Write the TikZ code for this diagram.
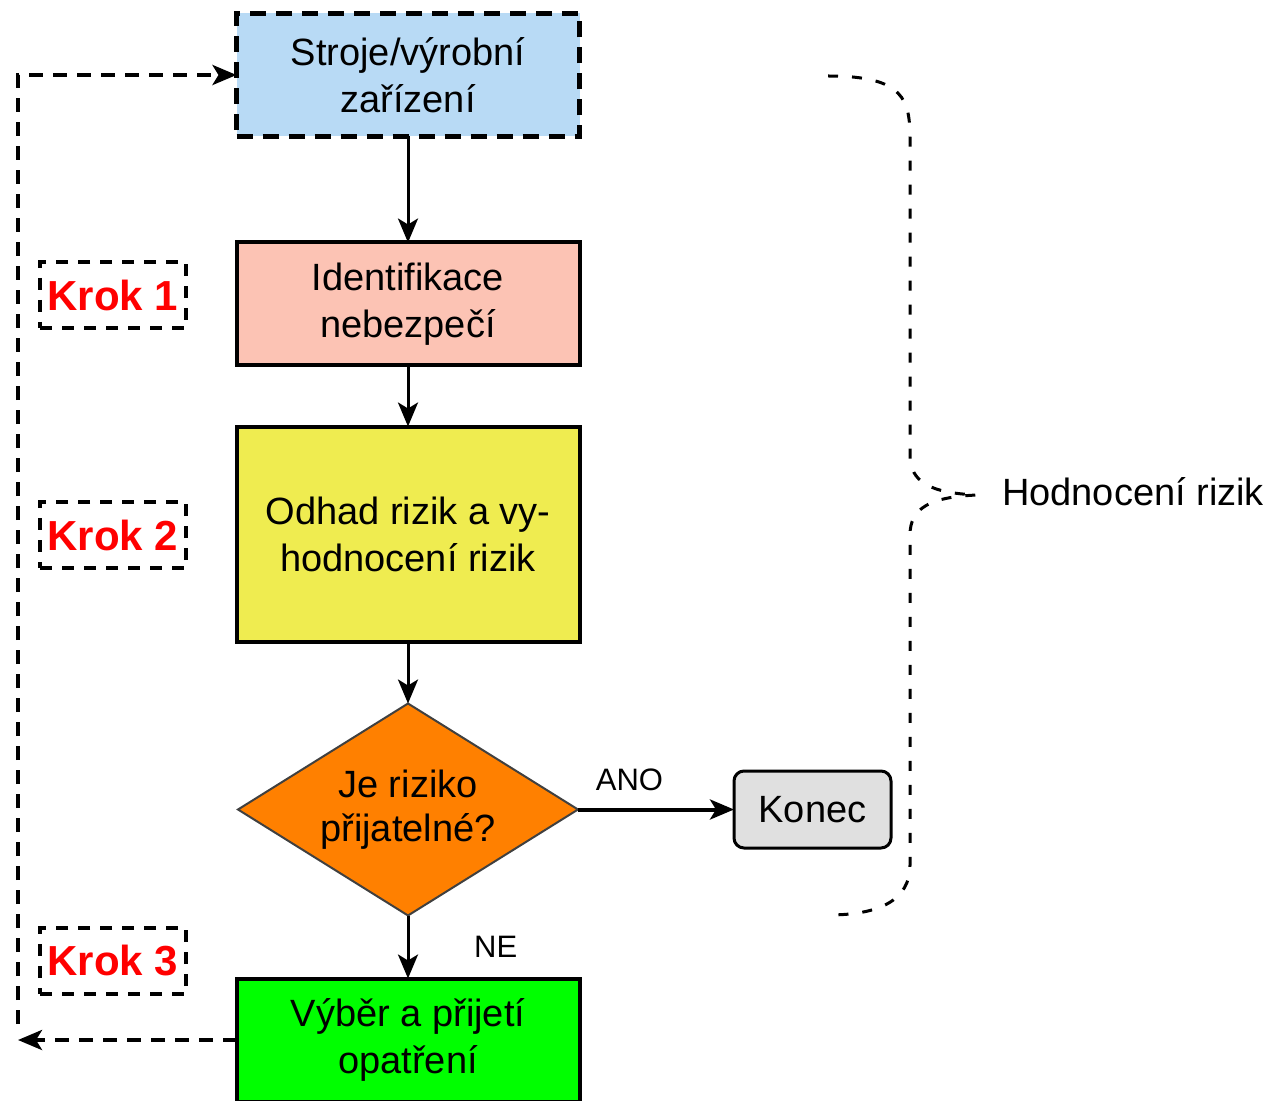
\documentclass[tikz,border=0pt]{standalone}
\usepackage{fontspec}
\setmainfont{Liberation Sans}
\usetikzlibrary{arrows.meta, positioning, shapes.geometric}

\definecolor{machineblue}{RGB}{184,218,245}
\definecolor{hazardpink}{RGB}{252,195,180}
\definecolor{riskyellow}{RGB}{239,236,80}
\definecolor{acceptorange}{RGB}{255,128,0}
\definecolor{measuregreen}{RGB}{0,255,0}
\definecolor{endgrey}{RGB}{224,224,224}

\begin{document}
\begin{tikzpicture}[
  x=0.5pt, y=-0.5pt,
  box/.style = {draw, line width=2pt, outer sep=0pt, minimum width=171.5pt, minimum height=61.5pt, align=center, inner sep=0pt, font=\fontsize{19}{23.5}\selectfont},
  dashbox/.style = {line width=2.5pt, dash pattern=on 8pt off 5pt},
  decision/.style = {diamond, draw=black!75, line width=1pt, outer sep=0pt, minimum width=170pt, minimum height=106pt, aspect=1.6, inner sep=0pt, align=center, font=\fontsize{19}{22}\selectfont},
  endbox/.style = {draw, line width=1.5pt, outer sep=0pt, rounded corners=5pt, fill=endgrey, minimum width=78.5pt, minimum height=38.5pt, font=\fontsize{19}{23}\selectfont},
  krokbox/.style = {draw, line width=2pt, dash pattern=on 6pt off 5pt, minimum width=73pt, minimum height=33pt, inner sep=0pt, text=red, font=\bfseries\fontsize{21}{25}\selectfont},
  line/.style = {line width=1.5pt, -{Stealth[length=12pt, width=10pt, inset=3pt]}},
  loopline/.style = {line width=2pt, dash pattern=on 7pt off 5pt, -{Stealth[length=12pt, width=10pt, inset=3pt]}},
  brace/.style = {line width=1.5pt, dash pattern=on 5pt off 7pt},
  signal/.style = {font=\fontsize{15.5}{18}\selectfont}
]
\useasboundingbox (0,0) rectangle (1268,1101);

% Nodes
\node[box, dashbox, fill=machineblue] (machine) at (408,75) {Stroje/výrobní\\zařízení};
\node[box, fill=hazardpink, below=53pt of machine] (hazard) {Identifikace\\nebezpečí};
\node[box, fill=riskyellow, minimum height=107.5pt, below=30.5pt of hazard] (estimate) {Odhad rizik a vy-\\hodnocení rizik};
\node[decision, fill=acceptorange, below=31pt of estimate] (accept) {Je riziko\\přijatelné?};
\node[box, fill=measuregreen, below=31.5pt of accept] (measure) {Výběr a přijetí\\opatření};
\node[endbox, right=78pt of accept] (done) {Konec};

% Steps
\node[krokbox] (step1) at (113,295) {Krok 1};
\node[krokbox] (step2) at (113,535) {Krok 2};
\node[krokbox] (step3) at (113,961) {Krok 3};

% Connections
\draw[line] (machine.south) -- (hazard.north);
\draw[line] (hazard.south) -- (estimate.north);
\draw[line] (estimate.south) -- (accept.north);
\draw[line, line width=2pt] (accept.east) -- node[signal, above=5pt, pos=0.33]{ANO} (done.west);
\draw[line] (accept.south) -- node[signal, right=29pt]{NE} (measure.north);

% Feedback loop
\coordinate (loopcorner) at (measure.west -| 18,0);
\draw[loopline] (measure.west) -- (loopcorner);
\draw[loopline] ([yshift=8pt]loopcorner) |- (machine.west);

% Brace
\coordinate (tip) at (977,495);
\draw[brace] (828,76) .. controls (905,76) and (910,100) .. (910,140) -- (910,455)
  .. controls (910,482) and (930,493) .. (tip)
  .. controls (930,497) and (910,508) .. (910,535) -- (910,865)
  .. controls (910,900) and (880,915) .. (828,915);
\node[anchor=west, font=\fontsize{19}{23}\selectfont] (assess) at (995,492) {Hodnocení rizik};

\end{tikzpicture}
\end{document}
